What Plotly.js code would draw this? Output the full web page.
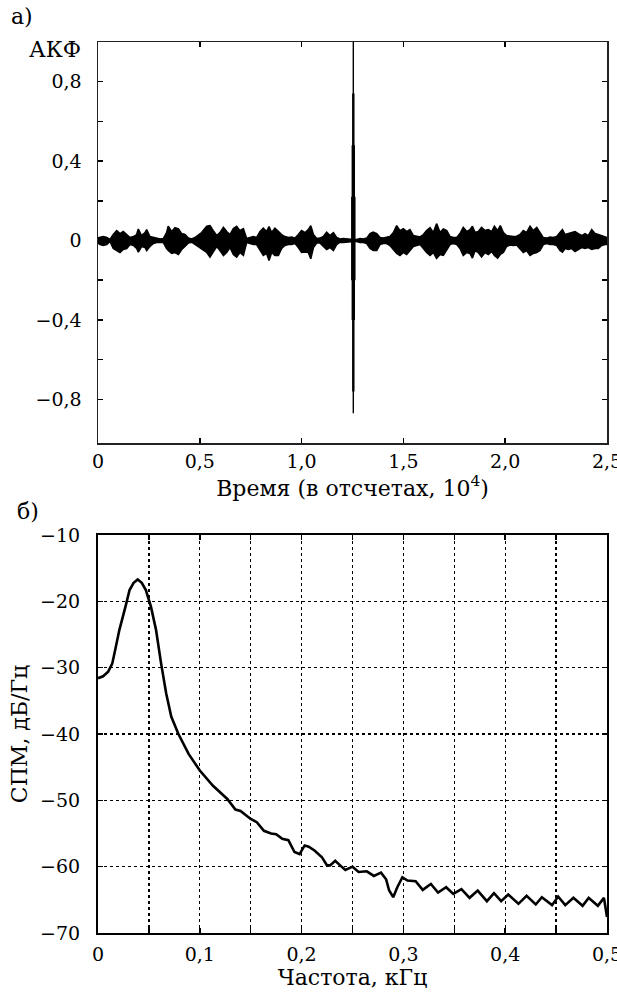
<!DOCTYPE html>
<html>
<head>
<meta charset="utf-8">
<script src="https://cdn.plot.ly/plotly-3.0.1.min.js"></script>
<style>html,body{margin:0;padding:0;background:#fff;}#chart{width:617px;height:1001px;}</style>
</head>
<body>
<div id="chart"></div>
<script>
// ---- Panel a): autocorrelation (envelope of the dense oscillation), lag in 10^4 samples ----
const acfT = [0.000,0.010,0.026,0.043,0.059,0.075,0.092,0.108,0.124,0.141,0.157,0.174,0.190,0.198,0.214,0.231,0.239,0.255,0.272,0.288,0.305,0.321,0.337,0.345,0.362,0.378,0.395,0.411,0.427,0.444,0.460,0.476,0.493,0.509,0.534,0.550,0.566,0.583,0.599,0.616,0.632,0.648,0.665,0.681,0.697,0.714,0.730,0.747,0.763,0.779,0.796,0.812,0.828,0.840,0.853,0.869,0.886,0.902,0.918,0.935,0.951,0.968,0.984,1.000,1.017,1.033,1.045,1.058,1.074,1.090,1.107,1.123,1.139,1.156,1.172,1.189,1.205,1.221,1.238,1.254,1.270,1.287,1.303,1.320,1.336,1.352,1.369,1.385,1.401,1.418,1.434,1.451,1.467,1.483,1.500,1.516,1.532,1.549,1.565,1.582,1.598,1.614,1.631,1.647,1.663,1.680,1.696,1.713,1.729,1.745,1.762,1.778,1.794,1.811,1.827,1.839,1.852,1.868,1.884,1.901,1.917,1.934,1.947,1.963,1.976,1.991,2.007,2.024,2.040,2.056,2.073,2.089,2.105,2.122,2.138,2.155,2.171,2.187,2.204,2.220,2.236,2.253,2.269,2.281,2.294,2.310,2.326,2.343,2.359,2.376,2.392,2.408,2.425,2.441,2.457,2.474,2.490,2.500];
const acfUp = [0.013,0.017,0.020,0.015,0.005,0.030,0.050,0.035,0.045,0.030,0.015,0.020,0.030,0.058,0.025,0.040,0.055,0.020,0.015,0.010,0.008,0.010,0.040,0.072,0.045,0.065,0.058,0.035,0.030,0.012,0.008,0.015,0.030,0.040,0.072,0.075,0.050,0.025,0.040,0.066,0.045,0.030,0.060,0.072,0.050,0.060,0.010,0.015,0.020,0.015,0.045,0.062,0.045,0.070,0.040,0.062,0.045,0.030,0.020,0.015,0.018,0.012,0.030,0.050,0.040,0.055,0.075,0.030,0.010,0.012,0.020,0.042,0.025,0.040,0.015,0.008,0.010,0.008,0.005,0.005,0.005,0.010,0.008,0.012,0.035,0.042,0.035,0.015,0.012,0.015,0.020,0.040,0.075,0.050,0.060,0.045,0.055,0.025,0.020,0.018,0.030,0.050,0.065,0.040,0.085,0.040,0.058,0.050,0.020,0.015,0.015,0.035,0.066,0.045,0.055,0.072,0.040,0.045,0.066,0.050,0.055,0.045,0.072,0.050,0.075,0.040,0.025,0.022,0.020,0.022,0.030,0.050,0.040,0.072,0.050,0.066,0.040,0.015,0.012,0.018,0.015,0.020,0.040,0.055,0.030,0.035,0.040,0.045,0.035,0.025,0.035,0.025,0.055,0.035,0.030,0.025,0.020,0.015];
const acfLo = [-0.013,-0.020,-0.025,-0.020,-0.005,-0.040,-0.050,-0.060,-0.045,-0.040,-0.020,-0.025,-0.040,-0.058,-0.030,-0.035,-0.050,-0.030,-0.015,-0.010,-0.010,-0.010,-0.040,-0.050,-0.065,-0.060,-0.070,-0.045,-0.030,-0.012,-0.008,-0.020,-0.030,-0.045,-0.060,-0.083,-0.060,-0.030,-0.050,-0.075,-0.060,-0.035,-0.070,-0.083,-0.060,-0.075,-0.010,-0.015,-0.020,-0.020,-0.050,-0.075,-0.065,-0.100,-0.060,-0.075,-0.075,-0.040,-0.025,-0.020,-0.020,-0.015,-0.035,-0.060,-0.058,-0.060,-0.092,-0.035,-0.012,-0.012,-0.030,-0.045,-0.035,-0.050,-0.020,-0.008,-0.010,-0.008,-0.005,-0.005,-0.005,-0.010,-0.010,-0.015,-0.040,-0.050,-0.050,-0.020,-0.015,-0.015,-0.025,-0.045,-0.065,-0.075,-0.060,-0.070,-0.050,-0.030,-0.025,-0.020,-0.040,-0.060,-0.075,-0.060,-0.090,-0.070,-0.075,-0.050,-0.020,-0.015,-0.020,-0.040,-0.075,-0.060,-0.065,-0.088,-0.050,-0.060,-0.083,-0.060,-0.070,-0.055,-0.075,-0.088,-0.070,-0.060,-0.030,-0.022,-0.025,-0.022,-0.040,-0.060,-0.050,-0.075,-0.065,-0.060,-0.050,-0.020,-0.015,-0.020,-0.020,-0.025,-0.050,-0.058,-0.040,-0.045,-0.040,-0.055,-0.045,-0.035,-0.040,-0.035,-0.045,-0.040,-0.040,-0.025,-0.020,-0.020];
// central peak (zero lag): vertical strokes, null separates strokes
const peakT = [1.254,1.254,null,1.2515,1.2515,null,1.2565,1.2565,null,1.249,1.249,null,1.259,1.259,null,1.2465,1.2465,null,1.2615,1.2615];
const peakV = [1.0,-0.87,null,0.74,-0.76,null,0.74,-0.76,null,0.48,-0.40,null,0.48,-0.40,null,0.22,-0.20,null,0.22,-0.20];

// ---- Panel б): power spectral density ----
const psdF = [0.000,0.005,0.010,0.014,0.018,0.021,0.027,0.031,0.035,0.039,0.043,0.047,0.052,0.057,0.062,0.067,0.072,0.079,0.089,0.100,0.113,0.127,0.135,0.140,0.150,0.156,0.163,0.170,0.175,0.181,0.187,0.193,0.198,0.203,0.207,0.213,0.220,0.225,0.228,0.233,0.240,0.243,0.250,0.256,0.264,0.271,0.278,0.283,0.286,0.290,0.294,0.299,0.304,0.312,0.319,0.327,0.334,0.342,0.349,0.357,0.365,0.373,0.382,0.389,0.396,0.403,0.413,0.421,0.430,0.436,0.446,0.452,0.459,0.467,0.476,0.482,0.491,0.497,0.500];
const psdDb = [-31.6,-31.3,-30.6,-29.4,-26.5,-24.3,-20.8,-18.3,-17.2,-16.7,-17.2,-18.3,-20.8,-24.3,-29.4,-33.9,-37.4,-40.0,-43.0,-45.5,-47.8,-49.8,-51.4,-51.6,-52.8,-53.3,-54.6,-55.0,-55.1,-55.8,-56.0,-57.8,-58.1,-56.8,-57.0,-57.6,-58.6,-59.8,-59.8,-59.1,-60.1,-60.5,-60.0,-60.8,-60.7,-61.4,-60.9,-61.9,-63.6,-64.6,-63.1,-61.6,-62.1,-62.2,-63.5,-62.6,-63.9,-63.1,-64.1,-63.4,-64.7,-63.6,-65.2,-64.0,-65.2,-64.2,-65.6,-64.4,-65.7,-64.6,-65.8,-64.5,-65.8,-64.7,-65.9,-64.7,-65.9,-64.7,-67.6];

// ---- tick labels ----
const xTopVals = [0,0.5,1.0,1.5,2.0,2.5];
const xTopText = ['0','0,5','1,0','1,5','2,0','2,5'];
const yTopVals = [-0.8,-0.6,-0.4,-0.2,0,0.2,0.4,0.6,0.8];
const yTopText = ['−0,8','','−0,4','','0','','0,4','','0,8'];
const xBotVals = [0,0.05,0.1,0.15,0.2,0.25,0.3,0.35,0.4,0.45,0.5];
const xBotText = ['0','','0,1','','0,2','','0,3','','0,4','','0,5'];
const yBotVals = [-70,-60,-50,-40,-30,-20,-10];
const yBotText = ['−70','−60','−50','−40','−30','−20','−10'];

const FONT = {family: 'DejaVu Serif, serif', size: 19, color: '#000'};
const TFONT = {family: 'DejaVu Serif, serif', size: 22, color: '#000'};

const traces = [
  {x: acfT, y: acfLo, xaxis: 'x', yaxis: 'y', mode: 'lines', line: {color: '#000', width: 1.6}, hoverinfo: 'skip', showlegend: false},
  {x: acfT, y: acfUp, xaxis: 'x', yaxis: 'y', mode: 'lines', fill: 'tonexty', fillcolor: '#000', line: {color: '#000', width: 1.6}, hoverinfo: 'skip', showlegend: false},
  {x: peakT, y: peakV, xaxis: 'x', yaxis: 'y', mode: 'lines', line: {color: '#000', width: 1.4}, connectgaps: false, hoverinfo: 'skip', showlegend: false},
  {x: psdF, y: psdDb, xaxis: 'x2', yaxis: 'y2', mode: 'lines', line: {color: '#000', width: 2.6}, hoverinfo: 'skip', showlegend: false}
];

const commonAxis = {
  ticks: 'inside', ticklen: 5, tickwidth: 1.5, tickcolor: '#000',
  showline: true, mirror: 'ticks', linecolor: '#000',
  zeroline: false, tickfont: FONT, fixedrange: true, ticklabeloverflow: 'allow'
};

const layout = {
  width: 617, height: 1001, autosize: false,
  margin: {l: 98, r: 10, t: 42, b: 68},
  paper_bgcolor: '#fff', plot_bgcolor: '#fff',
  font: FONT,
  showlegend: false,
  xaxis: Object.assign({}, commonAxis, {
    domain: [0, 1], anchor: 'y', range: [0, 2.5],
    tickmode: 'array', tickvals: xTopVals, ticktext: xTopText,
    linewidth: 1.5, linecolor: '#222', showgrid: false, ticklabelstandoff: 1,
    title: {text: 'Время (в отсчетах, 10<sup>4</sup>)', font: TFONT, standoff: 1}
  }),
  yaxis: Object.assign({}, commonAxis, {
    domain: [0.5499, 1], anchor: 'x', range: [-1.02, 1.0],
    tickmode: 'array', tickvals: yTopVals, ticktext: yTopText,
    linewidth: 1.5, linecolor: '#222', showgrid: false, ticklabelstandoff: 11
  }),
  xaxis2: Object.assign({}, commonAxis, {
    domain: [0, 1], anchor: 'y2', range: [0, 0.5],
    tickmode: 'array', tickvals: xBotVals, ticktext: xBotText,
    linewidth: 2, showgrid: true, gridcolor: '#000', gridwidth: 1.3, griddash: '3px,3px',
    ticklabelstandoff: 3,
    title: {text: 'Частота, кГц', font: TFONT, standoff: 3}
  }),
  yaxis2: Object.assign({}, commonAxis, {
    domain: [0, 0.4467], anchor: 'x2', range: [-70, -10],
    tickmode: 'array', tickvals: yBotVals, ticktext: yBotText,
    linewidth: 2, showgrid: true, gridcolor: '#000', gridwidth: 1.3, griddash: '3px,3px',
    ticklabelstandoff: 12,
    title: {text: 'СПМ, дБ/Гц', font: TFONT, standoff: 6}
  }),
  annotations: [
    {text: 'а)', xref: 'paper', yref: 'paper', x: -0.175, y: 1.029, xanchor: 'left', yanchor: 'middle', showarrow: false, font: TFONT},
    {text: 'АКФ', xref: 'paper', yref: 'paper', x: -0.030, y: 0.992, xanchor: 'right', yanchor: 'middle', showarrow: false, font: TFONT},
    {text: 'б)', xref: 'paper', yref: 'paper', x: -0.163, y: 0.473, xanchor: 'left', yanchor: 'middle', showarrow: false, font: TFONT}
  ]
};

Plotly.newPlot('chart', traces, layout, {staticPlot: true, displayModeBar: false});
</script>
</body>
</html>
